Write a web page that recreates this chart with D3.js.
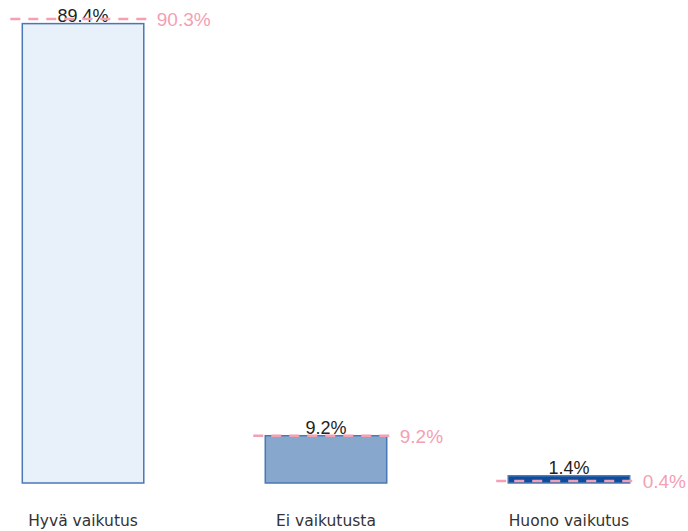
<!DOCTYPE html>
<html>
<head>
<meta charset="utf-8">
<script src="https://cdn.jsdelivr.net/npm/d3@7"></script>
<style>
  body { margin: 0; background: #fff; }
</style>
</head>
<body>
<div id="chart"></div>
<script>
const categories = ["Hyvä vaikutus", "Ei vaikutusta", "Huono vaikutus"];
const values = [89.4, 9.2, 1.4];
const refValues = [90.3, 9.2, 0.4];
const fills = ["#e8f0f9", "#87a7cc", "#0f4c9c"];

const width = 688, height = 531;
const baseY = 483;

const svg = d3.select("#chart").append("svg")
  .attr("width", width)
  .attr("height", height);

const x = d3.scaleBand()
  .domain(categories)
  .range([-2, 654])
  .paddingInner(0.5)
  .paddingOuter(0.1);

const y = d3.scaleLinear().domain([0, 90.3]).range([baseY, 19]);

const data = categories.map((c, i) => ({ cat: c, v: values[i], ref: refValues[i], fill: fills[i] }));

svg.selectAll("rect.bar")
  .data(data)
  .join("rect")
  .attr("class", "bar")
  .attr("x", d => x(d.cat))
  .attr("y", d => y(d.v))
  .attr("width", x.bandwidth())
  .attr("height", d => baseY - y(d.v))
  .attr("fill", d => d.fill)
  .attr("stroke", "#4a78b5")
  .attr("stroke-width", 1.5);

svg.selectAll("text.val")
  .data(data)
  .join("text")
  .attr("class", "val")
  .attr("x", d => x(d.cat) + x.bandwidth() / 2)
  .attr("y", d => y(d.v) - 2)
  .attr("text-anchor", "middle")
  .attr("font-family", "Liberation Sans, Arial, sans-serif")
  .attr("font-size", 18)
  .attr("fill", "#222")
  .text(d => d.v.toFixed(1) + "%");

svg.selectAll("line.ref")
  .data(data)
  .join("line")
  .attr("class", "ref")
  .attr("x1", d => x(d.cat) - 12)
  .attr("x2", d => x(d.cat) + x.bandwidth() + 7)
  .attr("y1", d => y(d.ref))
  .attr("y2", d => y(d.ref))
  .attr("stroke", "#f4a0b4")
  .attr("stroke-width", 2.5)
  .attr("stroke-dasharray", "10,8");

svg.selectAll("text.ref")
  .data(data)
  .join("text")
  .attr("class", "ref")
  .attr("x", d => x(d.cat) + x.bandwidth() + 13)
  .attr("y", d => y(d.ref) + 7)
  .attr("font-family", "Liberation Sans, Arial, sans-serif")
  .attr("font-size", 19)
  .attr("fill", "#f4a0b4")
  .text(d => d.ref.toFixed(1) + "%");

svg.selectAll("text.cat")
  .data(data)
  .join("text")
  .attr("class", "cat")
  .attr("x", d => x(d.cat) + x.bandwidth() / 2)
  .attr("y", 526)
  .attr("text-anchor", "middle")
  .attr("font-family", "'DejaVu Sans', sans-serif")
  .attr("font-size", 15.5)
  .attr("fill", "#333")
  .text(d => d.cat);
</script>
</body>
</html>
